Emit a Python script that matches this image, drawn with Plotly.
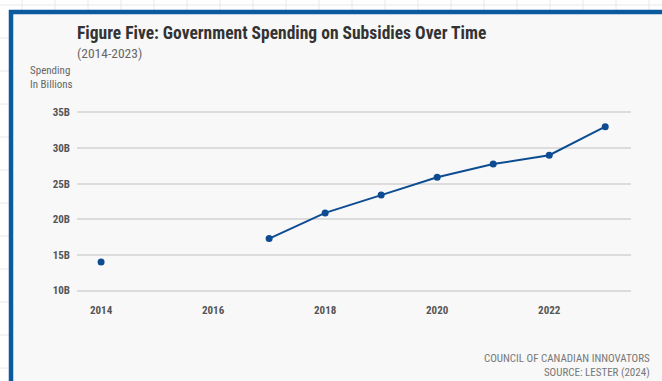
import plotly.graph_objects as go

years = [2014, 2015, 2016, 2017, 2018, 2019, 2020, 2021, 2022, 2023]
spending = [14.0, None, None, 17.3, 20.9, 23.4, 25.9, 27.75, 29.0, 33.0]
y_ticks = [10, 15, 20, 25, 30, 35]
y_tick_labels = ["10B", "15B", "20B", "25B", "30B", "35B"]
x_ticks = [2014, 2016, 2018, 2020, 2022]

W, H = 662, 381
L, R, T, B = 77, 31, 111, 89
PW, PH = W - L - R, H - T - B

def px(x):
    return (x - L) / PW

def py(y):
    return (H - B - y) / PH

FONT = "Liberation Sans Narrow, Roboto Condensed, Roboto, sans-serif"
BLUE = "#0d4c92"

fig = go.Figure()
fig.add_trace(go.Scatter(
    x=years, y=spending, mode="lines+markers",
    line=dict(color=BLUE, width=2),
    marker=dict(color=BLUE, size=7),
    connectgaps=False, hoverinfo="x+y", showlegend=False,
))

shapes = []
# faint spreadsheet grid behind the panel
for i in range(25):
    gx = 22 + 33 * i
    shapes.append(dict(type="line", xref="paper", yref="paper", x0=px(gx), x1=px(gx),
                       y0=py(0), y1=py(H), line=dict(color="#e8e8e8", width=1), layer="below"))
for i in range(13):
    gy = 5 + 33 * i
    shapes.append(dict(type="line", xref="paper", yref="paper", x0=px(0), x1=px(W),
                       y0=py(gy), y1=py(gy), line=dict(color="#e8e8e8", width=1), layer="below"))
# chart panel with blue border
shapes.append(dict(type="rect", xref="paper", yref="paper",
                   x0=px(11), x1=px(W + 20), y0=py(H + 20), y1=py(12),
                   fillcolor="#f8f8f8", line=dict(color="#0a5aa0", width=4.5), layer="below"))

def note(text, x, y, xanchor, size, color, align="left"):
    return dict(text=text, x=px(x), y=py(y), xref="paper", yref="paper",
                xanchor=xanchor, yanchor="middle", align=align, showarrow=False,
                font=dict(family=FONT, size=size, color=color))

annotations = [
    note("<b>Figure Five: Government Spending on Subsidies Over Time</b>", 75, 32.5, "left", 17.5, "#333333"),
    note("(2014-2023)", 75, 53, "left", 13.5, "#666666"),
    note("Spending<br>In Billions", 28, 78, "left", 11, "#666666"),
    note("COUNCIL OF CANADIAN INNOVATORS<br>SOURCE: LESTER (2024)", 652, 365.5, "right", 11, "#777777", "right"),
]

fig.update_layout(
    width=W, height=H,
    margin=dict(l=L, r=R, t=T, b=B, autoexpand=False),
    paper_bgcolor="white", plot_bgcolor="rgba(0,0,0,0)",
    shapes=shapes, annotations=annotations,
    xaxis=dict(range=[2013.57, 2023.46], tickvals=x_ticks, showgrid=False, zeroline=False,
               showline=False, ticks="", ticklabelstandoff=10,
               tickfont=dict(family=FONT, size=11, color="#555555", weight="bold")),
    yaxis=dict(range=[9.8, 35.2], tickvals=y_ticks, ticktext=y_tick_labels, showgrid=True,
               gridcolor="#dcdcdc", gridwidth=1.5, zeroline=False, showline=False, ticks="",
               ticklabelstandoff=6,
               tickfont=dict(family=FONT, size=11, color="#555555", weight="bold")),
)

fig.write_html("out.html")
